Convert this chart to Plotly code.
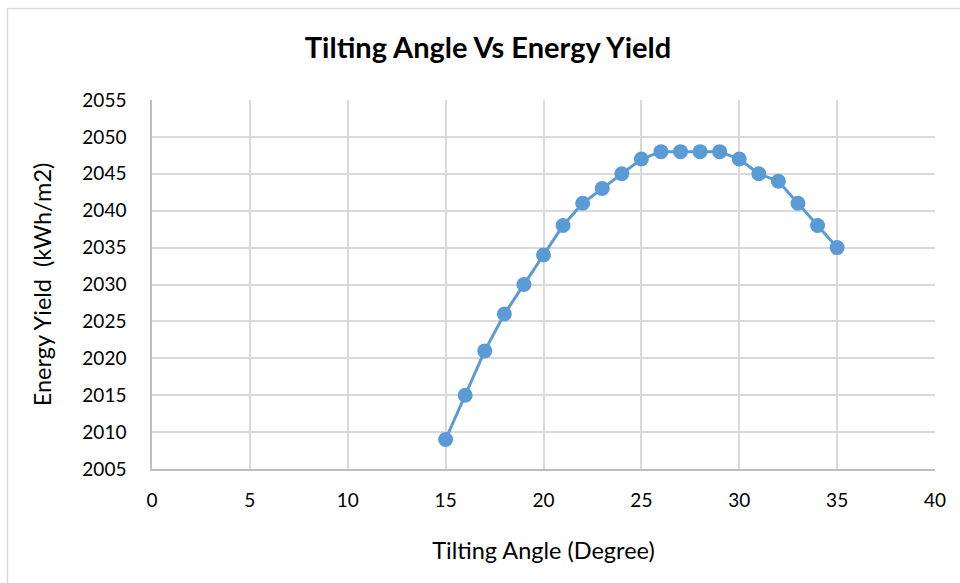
import plotly.graph_objects as go

angles = [15, 16, 17, 18, 19, 20, 21, 22, 23, 24, 25, 26, 27, 28, 29, 30, 31, 32, 33, 34, 35]
energy = [2009, 2015, 2021, 2026, 2030, 2034, 2038, 2041, 2043, 2045, 2047, 2048, 2048, 2048, 2048, 2047, 2045, 2044, 2041, 2038, 2035]

x_ticks = [0, 5, 10, 15, 20, 25, 30, 35, 40]
y_ticks = [2005, 2010, 2015, 2020, 2025, 2030, 2035, 2040, 2045, 2050, 2055]

FONT = "Lato"
W, H = 960, 583
L, R, T, B = 152, 25, 100, 114
pw, ph = W - L - R, H - T - B

fig = go.Figure()
fig.add_trace(go.Scatter(
    x=angles, y=energy, mode="lines+markers",
    line=dict(color="#5B9BD5", width=3),
    marker=dict(color="#5B9BD5", size=15),
    showlegend=False, cliponaxis=False,
))

def px_x(p):
    return (p - L) / pw

def px_y(p):
    return 1 - (p - T) / ph

shapes = [
    dict(type="line", xref="paper", yref="paper", x0=px_x(7.5), x1=px_x(7.5), y0=px_y(H + 5), y1=px_y(8.5),
         line=dict(color="#d9d9d9", width=1.5)),
    dict(type="line", xref="paper", yref="paper", x0=px_x(7.5), x1=px_x(W + 5), y0=px_y(8.5), y1=px_y(8.5),
         line=dict(color="#d9d9d9", width=1.5)),
]

fig.update_layout(
    width=W, height=H,
    margin=dict(l=L, r=R, t=T, b=B),
    paper_bgcolor="white", plot_bgcolor="white",
    font=dict(family=FONT, color="#000000", size=19),
    title=dict(text="<b>Tilting Angle Vs Energy Yield</b>", x=488 / W,
               xanchor="center", y=1 - 48 / H, yanchor="middle",
               font=dict(family=FONT, size=29, color="#000000")),
    shapes=shapes,
    xaxis=dict(
        range=[0, 40], tickvals=x_ticks, ticktext=[str(v) for v in x_ticks],
        showgrid=True, gridcolor="#d9d9d9", gridwidth=1.5,
        showline=True, linecolor="#bfbfbf", linewidth=1.5,
        zeroline=False, ticks="", ticklabelstandoff=13,
        title=dict(text="Tilting Angle (Degree)", font=dict(size=23.5), standoff=33),
        fixedrange=True,
    ),
    yaxis=dict(
        range=[2005, 2055], tickvals=y_ticks, ticktext=[str(v) for v in y_ticks],
        showgrid=True, gridcolor="#d9d9d9", gridwidth=1.5,
        showline=True, linecolor="#bfbfbf", linewidth=1.5,
        zeroline=False, ticks="", ticklabelstandoff=20,
        title=dict(text="Energy Yield  (kWh/m2)", font=dict(size=23.5), standoff=24),
        fixedrange=True,
    ),
)

fig.write_html("out.html")
